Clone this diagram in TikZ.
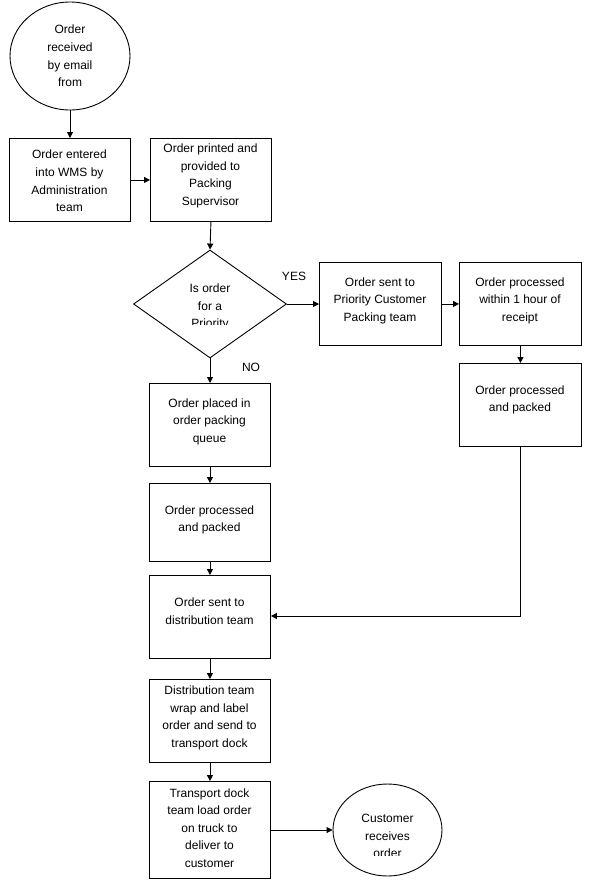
\documentclass[tikz,border=0pt]{standalone}
\usepackage{fontspec}
\setmainfont{Liberation Sans}
\usetikzlibrary{arrows.meta,shapes.geometric}
\begin{document}
\begin{tikzpicture}[x=1pt,y=-1pt,
  line width=0.9pt,
  box/.style={draw,rectangle,minimum width=121pt,inner sep=0pt,anchor=north west},
  txt/.style={align=center,inner sep=0pt,font=\fontsize{12}{17.6}\selectfont},
  lbl/.style={inner sep=0pt,font=\fontsize{12}{14}\selectfont},
  arr/.style={-{Triangle[length=6pt,width=6pt]}}]
\useasboundingbox (0,0) rectangle (590,884);
% shapes
\node[draw,ellipse,minimum width=120pt,minimum height=108pt,inner sep=0pt] (c1) at (70,56) {};
\node[box,minimum height=83pt] (b1) at (9,138) {};
\node[box,minimum height=83pt] (b2) at (150,138) {};
\node[draw,diamond,minimum width=153pt,minimum height=108pt,inner sep=0pt] (d) at (210,304) {};
\node[box,minimum width=122pt,minimum height=83pt] (b3) at (319,262) {};
\node[box,minimum width=122pt,minimum height=83pt] (b4) at (459,262) {};
\node[box,minimum width=122pt,minimum height=83pt] (b5) at (459,363) {};
\node[box,minimum height=83pt] (b6) at (149,383) {};
\node[box,minimum height=78pt] (b7) at (149,483) {};
\node[box,minimum height=83pt] (b8) at (149,575) {};
\node[box,minimum height=83pt] (b9) at (149,679) {};
\node[box,minimum height=97pt] (b10) at (149,781) {};
\node[draw,ellipse,minimum width=109pt,minimum height=92pt,inner sep=0pt] (e) at (387.5,830) {};
% texts
\node[txt] (t1) at (70,56) {Order\\received\\by email\\from};
\node[txt] (tb1) at (69.5,181) {Order entered\\into WMS by\\Administration\\team};
\node[txt] (tb2) at (210.5,176) {Order printed and\\provided to\\Packing\\Supervisor};
\begin{scope}
  \clip (133,250) rectangle (290,324.5);
  \node[txt] (td) at (210,307) {Is order\\for a\\Priority};
\end{scope}
\node[txt] (tb3) at (380,300.5) {Order sent to\\Priority Customer\\Packing team};
\node[txt] (tb4) at (520,300.5) {Order processed\\within 1 hour of\\receipt};
\node[txt] (tb5) at (520,400) {Order processed\\and packed};
\node[txt] (tb6) at (209.5,421.5) {Order placed in\\order packing\\queue};
\node[txt] (tb7) at (209.5,520) {Order processed\\and packed};
\node[txt] (tb8) at (209.5,611.5) {Order sent to\\distribution team};
\node[txt] (tb9) at (209.5,718) {Distribution team\\wrap and label\\order and send to\\transport dock};
\node[txt] (tb10) at (209.5,828) {Transport dock\\team load order\\on truck to\\deliver to\\customer};
\begin{scope}
  \clip (333,790) rectangle (443,855);
  \node[txt] (te) at (387.5,836) {Customer\\receives\\order};
\end{scope}
\node[lbl] (yes) at (294,276) {YES};
\node[lbl] (no) at (251,367) {NO};
% connectors
\draw[arr] (c1.south) -- (c1.south |- b1.north);
\draw[arr] (b1.east) -- (b2.west);
\draw[arr] (b2.south) -- (d.north);
\draw[arr] (d.east) -- (b3.west |- d.east);
\draw[arr] (b3.east) -- (b4.west);
\draw[arr] (b4.south) -- (b5.north);
\draw[arr] (d.south) -- (d.south |- b6.north);
\draw[arr] (b6.south) -- (b7.north);
\draw[arr] (b7.south) -- (b8.north);
\draw[arr] (b5.south) |- (b8.east |- 0,616);
\draw[arr] (b8.south) -- (b9.north);
\draw[arr] (b9.south) -- (b10.north);
\draw[arr] (b10.east |- e.west) -- (e.west);
\end{tikzpicture}
\end{document}
